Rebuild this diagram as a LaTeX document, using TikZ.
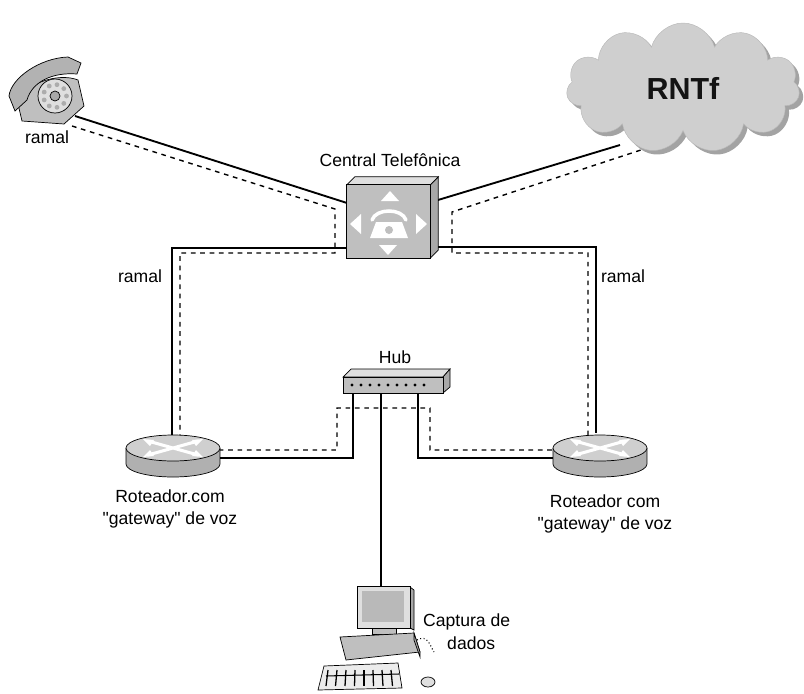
\documentclass[tikz,border=0pt]{standalone}
\usepackage{fontspec}
\setmainfont{Liberation Sans}[Ligatures=TeXOff]
\usetikzlibrary{shapes.symbols,calc}
\begin{document}
\begin{tikzpicture}[x=0.03cm,y=-0.03cm,
  link/.style={line width=1.6pt, black},
  voice/.style={line width=1.2pt, black, dash pattern=on 4pt off 4pt},
  lbl/.style={font=\fontsize{15}{19.5}\selectfont, inner sep=0pt, align=center},
  dev/.style={inner sep=0pt, draw=none},
  body/.style={fill=gray!50, draw=black, line width=0.6pt},
  lightface/.style={fill=gray!25, draw=black, line width=0.6pt},
  darkface/.style={fill=gray!68, draw=black, line width=0.6pt},
]
\useasboundingbox (0,0) rectangle (804,693);

% ---------- device placeholders ----------
\node[dev, minimum width=2.16cm, minimum height=1.89cm] (phone) at (46,92) {};
\node[dev, minimum width=2.49cm, minimum height=2.19cm] (pbx) at (388.5,221.5) {};
\node[dev, minimum width=3.21cm, minimum height=0.75cm] (hub) at (396.5,380.5) {};
\node[dev, minimum width=2.82cm, minimum height=1.26cm] (rtrL) at (173,456) {};
\node[dev, minimum width=2.82cm, minimum height=1.26cm] (rtrR) at (600,456) {};
\node[dev, minimum width=3.3cm, minimum height=3.2cm] (pc) at (372,638) {};

% ---------- ports ----------
\coordinate (phS) at (75,116);   \coordinate (phV) at (72,126);
\coordinate (pbxWa) at (347,203); \coordinate (pbxWb) at (347,248);
\coordinate (pbxEa) at (438,200); \coordinate (pbxEb) at (438,247);
\coordinate (clS) at (620,145);  \coordinate (clV) at (647,148);
\coordinate (rLtop) at (172,437); \coordinate (rLside) at (220,458);
\coordinate (rRtop) at (596,433); \coordinate (rRside) at (553,458);
\coordinate (hubA) at (353,393); \coordinate (hubB) at (381,393); \coordinate (hubC) at (418,393);
\coordinate (pcTop) at (381,586);

% ---------- voice path (dashed) ----------
\draw[voice] (phV) -- (335,209) -- (335,253) -- (180,253) -- (180,440)
  -- (200,450) -- (337,450) -- (337,408) -- (430,408) -- (430,450)
  -- (572,450) -- (588,436) -- (588,253) -- (452,253) -- (452,212) -- (clV);

% ---------- cabling ----------
\draw[link] (phS) -- (pbxWa);
\draw[link] (pbxEa) -- (clS);
\draw[link] (pbxWb) -| (rLtop);
\draw[link] (pbxEb) -| (rRtop);
\draw[link] (hubA) |- (rLside);
\draw[link] (hubC) |- (rRside);
\draw[link] (hubB) -- (pcTop);

% ---------- PSTN cloud ----------
\node[cloud, cloud puffs=11, cloud ignores aspect, minimum width=7.0cm, minimum height=3.9cm,
      fill=gray!72, draw=none] (pstnShadow) at (687,92) {};
\node[cloud, cloud puffs=11, cloud ignores aspect, minimum width=7.0cm, minimum height=3.9cm,
      fill=gray!38, draw=gray!55, text=gray!15!black,
      font=\fontsize{26}{30}\selectfont\bfseries] (pstn) at (683,88) {RNTf};

% ---------- telephone ----------
\draw[body] (22,121) -- (18,104) .. controls (22,84) and (58,72) .. (78,80)
  -- (84,106) -- (64,124) -- cycle;
\draw[lightface] (55,96) circle [radius=17];
\foreach \a in {0,40,...,320} \fill[gray!65] ($(55,96)+(\a:11.5)$) circle [radius=2.4];
\draw[darkface] (55,96) circle [radius=5];
\draw[body, fill=gray!60] (9,96) .. controls (11,78) and (40,58) .. (68,57) -- (81,63) -- (77,74)
  .. controls (52,72) and (32,82) .. (27,100) -- (15,111) -- cycle;

% ---------- PBX ----------
\draw[darkface] (pbx.north east) -- ++(8,-8) -- ($(pbx.south east)+(8,-8)$) -- (pbx.south east) -- cycle;
\draw[lightface] (pbx.north west) -- ++(8,-8) -- ($(pbx.north east)+(8,-8)$) -- (pbx.north east) -- cycle;
\draw[body] (pbx.north west) rectangle (pbx.south east);
\fill[white] (390,191) -- (399,201) -- (381,201) -- cycle;
\fill[white] (388,255) -- (397,245) -- (379,245) -- cycle;
\fill[white] (350,224) -- (361,214) -- (361,234) -- cycle;
\fill[white] (427,224) -- (416,214) -- (416,234) -- cycle;
\draw[white, line width=3pt, line cap=round] (372,220) .. controls (376,208) and (402,208) .. (406,220);
\fill[white] (376,222) -- (402,222) -- (408,238) -- (370,238) -- cycle;
\fill[gray!50] (389,230) circle [radius=4];

% ---------- hub ----------
\draw[lightface] (343,377) -- (351,369) -- (450,369) -- (443,377) -- cycle;
\draw[darkface] (443,377) -- (450,369) -- (450,387) -- (443,393) -- cycle;
\draw[body] (343,377) rectangle (443,393);
\foreach \i in {0,...,8} \fill[black] (352+\i*9,385) circle [radius=1.6];

% ---------- routers ----------
\foreach \r/\cx in {rtrL/173, rtrR/600}{
  \fill[gray!62] (\cx-47,448) rectangle (\cx+47,464);
  \fill[gray!62] (\cx,464) ellipse [x radius=47, y radius=13];
  \draw[line width=0.6pt] (\cx-47,448) -- (\cx-47,464) arc[start angle=180, end angle=360, x radius=47, y radius=-13] -- (\cx+47,448);
  \draw[fill=gray!38, line width=0.6pt] (\cx,448) ellipse [x radius=47, y radius=13];
  \draw[white, line width=2.6pt] (\cx-25,441) -- (\cx+25,455) (\cx-25,455) -- (\cx+25,441);
  \fill[white] (\cx-30,439) -- (\cx-19,440) -- (\cx-23,446) -- cycle;
  \fill[white] (\cx+30,457) -- (\cx+19,456) -- (\cx+23,450) -- cycle;
  \fill[white] (\cx-30,457) -- (\cx-19,456) -- (\cx-23,450) -- cycle;
  \fill[white] (\cx+30,439) -- (\cx+19,440) -- (\cx+23,446) -- cycle;
}

% ---------- data capture PC ----------
\draw[darkface] (410,587) -- (414,590) -- (414,630) -- (410,628) -- cycle;
\draw[lightface] (357,586) rectangle (410,628);
\fill[gray!55] (362,591) rectangle (404,622);
\draw[body] (372,628) rectangle (396,634);
\draw[body] (340,637) -- (414,633) -- (420,652) -- (346,660) -- cycle;
\draw[darkface] (414,633) -- (420,652) -- (420,657) -- (414,640) -- cycle;
\draw[fill=gray!15, line width=0.6pt] (324,666) -- (398,663) -- (402,688) -- (318,690) -- cycle;
\foreach \k in {0,...,7} \draw[line width=1.1pt] (328+\k*9,670) -- (326+\k*9.5,686);
\draw[line width=0.9pt] (326,676) -- (399,674);
\draw[fill=gray!25, line width=0.6pt] (428,682) ellipse [x radius=7, y radius=5];
\draw[dotted, line width=0.9pt] (417,640) .. controls (428,634) and (430,646) .. (434,652);

% ---------- labels ----------
\node[lbl] (lblPhone) at (47,137) {ramal};
\node[lbl] (lblPbx) at (390,160) {Central Telefônica};
\node[lbl] (lblRamalL) at (140,276) {ramal};
\node[lbl] (lblRamalR) at (623,276) {ramal};
\node[lbl] (lblHub) at (395,357) {Hub};
\node[lbl] (lblRtrL) at (170,509) {Roteador.com\\"gateway" de voz};
\node[lbl] (lblRtrR) at (605,514) {Roteador com\\"gateway" de voz};
\node[lbl, anchor=west, align=left] (lblPc) at (423,632) {Captura de\\\hspace*{0.72cm}dados};
\end{tikzpicture}
\end{document}
